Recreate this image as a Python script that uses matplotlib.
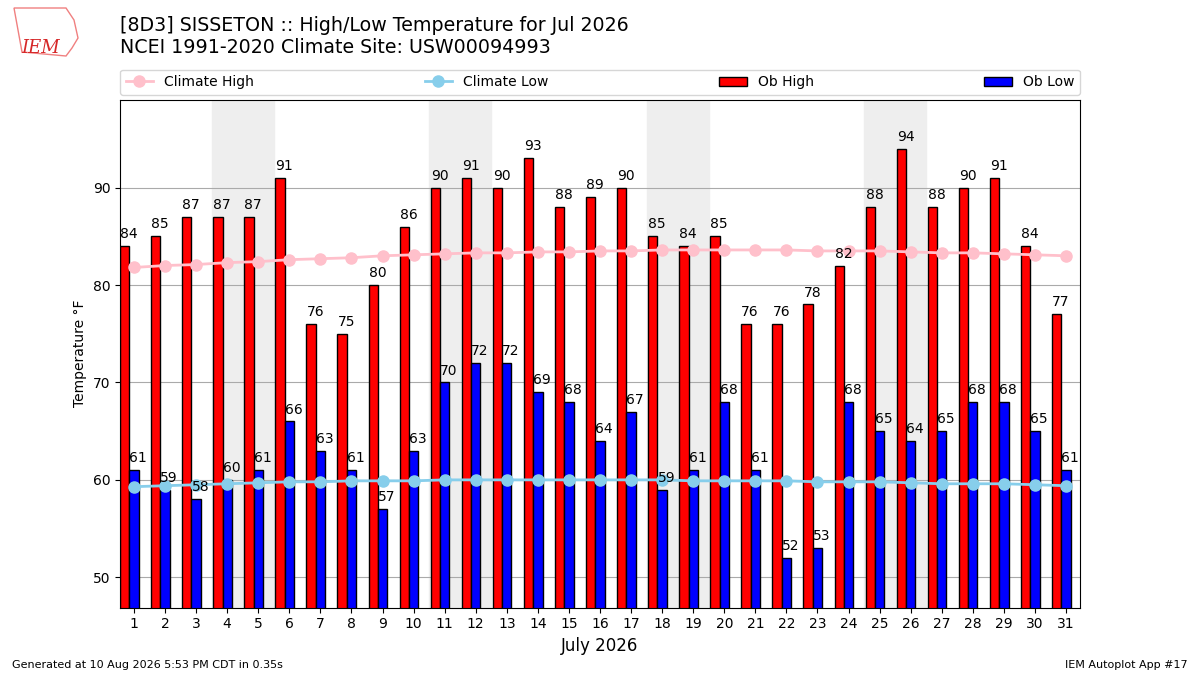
import matplotlib
matplotlib.use("Agg")
import matplotlib.pyplot as plt
import numpy as np

days = list(range(1, 32))
ob_high = [84, 85, 87, 87, 87, 91, 76, 75, 80, 86, 90, 91, 90, 93, 88, 89,
           90, 85, 84, 85, 76, 76, 78, 82, 88, 94, 88, 90, 91, 84, 77]
ob_low = [61, 59, 58, 60, 61, 66, 63, 61, 57, 63, 70, 72, 72, 69, 68, 64,
          67, 59, 61, 68, 61, 52, 53, 68, 65, 64, 65, 68, 68, 65, 61]
clim_high = [81.8, 82.0, 82.1, 82.3, 82.4, 82.6, 82.7, 82.8, 83.0, 83.1, 83.2,
             83.3, 83.3, 83.4, 83.4, 83.5, 83.5, 83.6, 83.6, 83.6, 83.6, 83.6,
             83.5, 83.5, 83.5, 83.4, 83.3, 83.3, 83.2, 83.1, 83.0]
clim_low = [59.3, 59.4, 59.5, 59.6, 59.7, 59.8, 59.8, 59.9, 59.9, 59.9, 60.0,
            60.0, 60.0, 60.0, 60.0, 60.0, 60.0, 60.0, 59.9, 59.9, 59.9, 59.9,
            59.8, 59.8, 59.8, 59.7, 59.6, 59.6, 59.6, 59.5, 59.4]
weekends = [(4, 5), (11, 12), (18, 19), (25, 26)]

title = "[8D3] SISSETON :: High/Low Temperature for Jul 2026\nNCEI 1991-2020 Climate Site: USW00094993"

fig = plt.figure(figsize=(12, 6.75), dpi=100)
ax = fig.add_axes([0.1, 0.1, 0.8, 0.752])

x = np.array(days)
for sat, sun in weekends:
    ax.axvspan(sat - 0.5, sun + 0.5, color="#EEEEEE", zorder=0)

ax.plot(x, clim_high, color="pink", marker="o", lw=2, ms=8, label="Climate High", zorder=3)
ax.plot(x, clim_low, color="skyblue", marker="o", lw=2, ms=8, label="Climate Low", zorder=3)
ax.bar(x - 0.3, ob_high, width=0.3, fc="r", ec="k", label="Ob High", zorder=2)
ax.bar(x, ob_low, width=0.3, fc="b", ec="k", label="Ob Low", zorder=2)

# labels start at the left edge of each bar
for xi, hi, lo in zip(x, ob_high, ob_low):
    ax.text(xi - 0.45, hi + 0.5, f"{hi}", ha="left", va="bottom", fontsize=10, zorder=4)
    ax.text(xi - 0.15, lo + 0.5, f"{lo}", ha="left", va="bottom", fontsize=10, zorder=4)

ax.set_xlim(0.55, 31.45)
ax.set_ylim(46.9, 99)
ax.set_xticks(days)
ax.set_yticks([50, 60, 70, 80, 90])
ax.yaxis.grid(True, color="#aaaaaa", zorder=1)
ax.set_axisbelow(True)
ax.set_xlabel("July 2026", fontsize=12)
ax.set_ylabel("Temperature °F")

ax.legend(loc="lower left", bbox_to_anchor=(0, 1.01, 1, 0.05), mode="expand",
          ncol=4, borderaxespad=0, fontsize=10)

fig.text(0.1, 0.977, title, fontsize=13.7, va="top", ha="left")

# rough IEM logo
outline = np.array([[14, 8], [66, 8], [70, 14], [74, 20], [78, 38], [72, 48],
                    [66, 56], [22, 52], [18, 30], [14, 8]], dtype=float)
fig.add_artist(plt.Polygon(np.column_stack([outline[:, 0] / 1200, 1 - outline[:, 1] / 675]),
                           closed=True, fill=False, ec="#f08080", lw=1,
                           transform=fig.transFigure))
fig.text(0.0175, 0.922, "IEM", color="#d62728", fontsize=13, family="DejaVu Serif",
         style="italic")
fig.text(0.01, 0.01, "Generated at 10 Aug 2026 5:53 PM CDT in 0.35s", fontsize=8)
fig.text(0.99, 0.01, "IEM Autoplot App #17", fontsize=8, ha="right")

fig.savefig("out.png", dpi=100)
